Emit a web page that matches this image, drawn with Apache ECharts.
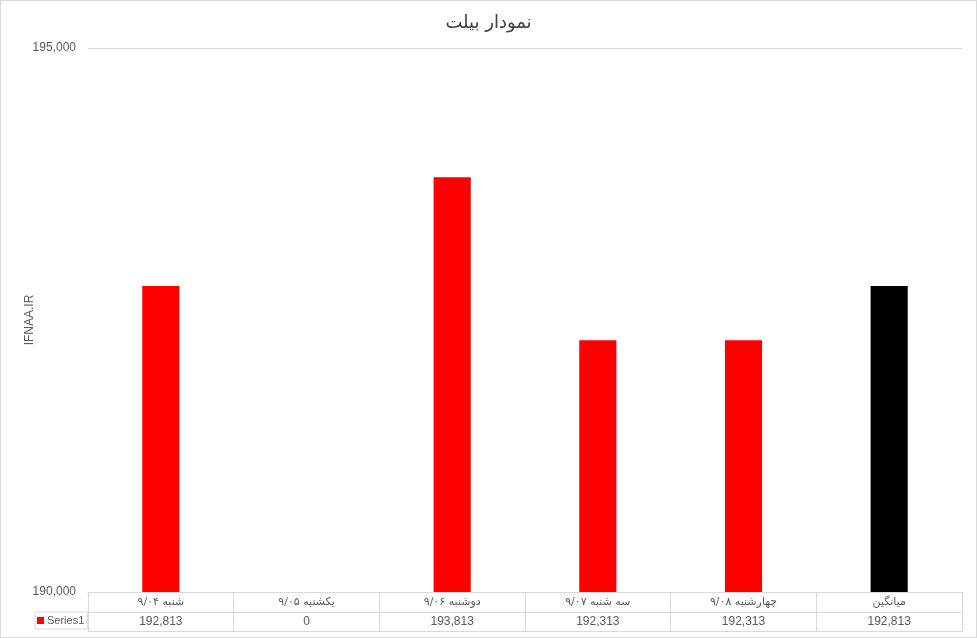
<!DOCTYPE html>
<html>
<head>
<meta charset="utf-8">
<script src="https://cdn.jsdelivr.net/npm/echarts@6/dist/echarts.min.js"></script>
<style>
  html, body { margin: 0; padding: 0; background: #fff; }
  #chart { width: 977px; height: 638px; box-shadow: inset 0 0 0 1px #d9d9d9; }
</style>
</head>
<body>
<div id="chart"></div>
<script>
// ---- data ----
const chartTitle = 'نمودار بیلت';
const axisName = 'IFNAA.IR';
const seriesName = 'Series1';
const categories = ['شنبه ۹/۰۴', 'یکشنبه ۹/۰۵', 'دوشنبه ۹/۰۶', 'سه شنبه ۹/۰۷', 'چهارشنبه ۹/۰۸', 'میانگین'];
const values = [192813, 0, 193813, 192313, 192313, 192813];
const yTicks = [190000, 195000];
const averageLabel = 'میانگین';

// ---- style ----
const RED = '#ff0000';
const BLACK = '#000000';
const GRID_LINE = '#d9d9d9';
const TEXT = '#595959';
const FONT = 'Liberation Sans, DejaVu Sans, sans-serif';

const yMin = yTicks[0];
const yMax = yTicks[yTicks.length - 1];
const fmt = v => v.toLocaleString('en-US');

const barData = values.map((v, i) => ({
  value: v < yMin ? '-' : v,
  itemStyle: { color: categories[i] === averageLabel ? BLACK : RED }
}));

const chart = echarts.init(document.getElementById('chart'), null, { renderer: 'canvas' });
chart.setOption({
  animation: false,
  title: {
    text: chartTitle,
    left: 'center',
    top: 9,
    textStyle: { fontSize: 18, fontWeight: 'normal', color: '#404040', fontFamily: 'DejaVu Sans, sans-serif' }
  },
  legend: {
    data: [seriesName],
    left: 35,
    top: 612,
    icon: 'rect',
    itemWidth: 7,
    itemHeight: 7,
    itemGap: 0,
    padding: [3, 3, 3, 2],
    borderColor: GRID_LINE,
    borderWidth: 1,
    borderRadius: 0,
    textStyle: { fontSize: 11, color: TEXT, fontFamily: FONT, padding: [0, 0, 0, -2] }
  },
  grid: { left: 88, right: 15, top: 48, bottom: 46 },
  xAxis: [
    {
      type: 'category',
      data: categories,
      position: 'bottom',
      axisLine: { show: true, lineStyle: { color: GRID_LINE } },
      axisTick: { show: true, length: 39, interval: 0, lineStyle: { color: GRID_LINE } },
      axisLabel: { interval: 0, margin: 5, fontSize: 11, color: TEXT, fontFamily: 'DejaVu Sans, sans-serif' },
      splitLine: { show: false }
    },
    {
      type: 'category',
      data: values.map(fmt),
      position: 'bottom',
      offset: 20,
      axisLine: { show: true, lineStyle: { color: GRID_LINE } },
      axisTick: { show: false },
      axisLabel: { interval: 0, margin: 4, fontSize: 12, color: TEXT, fontFamily: FONT },
      splitLine: { show: false }
    },
    {
      type: 'category',
      data: categories,
      position: 'bottom',
      offset: 39,
      axisLine: { show: true, lineStyle: { color: GRID_LINE } },
      axisTick: { show: false },
      axisLabel: { show: false },
      splitLine: { show: false }
    }
  ],
  yAxis: {
    type: 'value',
    min: yMin,
    max: yMax,
    interval: yMax - yMin,
    name: axisName,
    nameLocation: 'middle',
    nameGap: 52,
    nameRotate: 90,
    nameMoveOverlap: false,
    nameTextStyle: { fontSize: 12, color: TEXT, fontFamily: FONT },
    axisLine: { show: false },
    axisTick: { show: false },
    axisLabel: { fontSize: 12, color: TEXT, fontFamily: FONT, margin: 12, formatter: v => fmt(v) },
    splitLine: { show: true, lineStyle: { color: GRID_LINE } }
  },
  series: [
    {
      name: seriesName,
      type: 'bar',
      xAxisIndex: 0,
      data: barData,
      barWidth: '25.5%',
      itemStyle: { color: RED }
    }
  ]
});
</script>
</body>
</html>
